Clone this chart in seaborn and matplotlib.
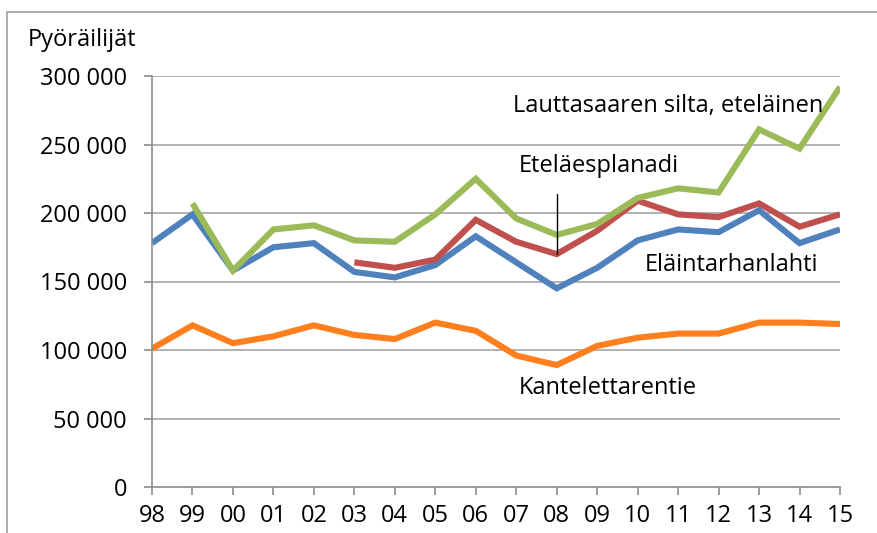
import numpy as np
import pandas as pd
import matplotlib
matplotlib.use("Agg")
import matplotlib.pyplot as plt
import seaborn as sns
from matplotlib.patches import Rectangle

years = ["98", "99", "00", "01", "02", "03", "04", "05", "06", "07", "08",
         "09", "10", "11", "12", "13", "14", "15"]
elaintarhanlahti = [178000, 199000, 158000, 175000, 178000, 157000, 153000, 162000, 183000,
                    164000, 145000, 160000, 180000, 188000, 186000, 202000, 178000, 188000]
etelaesplanadi = [np.nan, np.nan, np.nan, np.nan, np.nan, 164000, 160000, 166000, 195000,
                  179000, 170000, 187000, 209000, 199000, 197000, 207000, 190000, 199000]
lauttasaari = [np.nan, 207000, 158000, 188000, 191000, 180000, 179000, 199000, 225000,
               196000, 184000, 192000, 211000, 218000, 215000, 261000, 247000, 292000]
kantelettarentie = [101000, 118000, 105000, 110000, 118000, 111000, 108000, 120000, 114000,
                    96000, 89000, 103000, 109000, 112000, 112000, 120000, 120000, 119000]

series_names = ["Eläintarhanlahti", "Eteläesplanadi", "Lauttasaaren silta, eteläinen", "Kantelettarentie"]
series_vals = [elaintarhanlahti, etelaesplanadi, lauttasaari, kantelettarentie]
colors = ["#4F81BD", "#C0504D", "#9BBB59", "#FF7F1E"]
yticks = [0, 50000, 100000, 150000, 200000, 250000, 300000]

sns.set_theme(style="white")
plt.rcParams['font.family'] = ['Open Sans', 'DejaVu Sans']

fig = plt.figure(figsize=(8.78, 5.33), dpi=100)
ax = fig.add_axes([152/878, 46/533, 688/878, 411/533])

x = np.arange(len(years))
for name, vals, c in zip(series_names, series_vals, colors):
    df = pd.DataFrame({"x": x, "y": vals}).dropna()
    sns.lineplot(data=df, x="x", y="y", ax=ax, color=c, lw=4.4, solid_capstyle="butt",
                 solid_joinstyle="miter", legend=False)

ax.set_xlim(0, len(years) - 1)
ax.set_ylim(0, 300000)
ax.set_xticks(x)
ax.set_xticklabels(years)
ax.set_yticks(yticks)
ax.set_yticklabels([f"{v:,}".replace(",", " ") for v in yticks])
ax.set_xlabel("")
ax.set_ylabel("")
for yv in yticks[1:]:
    ax.axhline(yv, color="#A6A6A6", lw=1.2, zorder=0)
for s in ["top", "right"]:
    ax.spines[s].set_visible(False)
ax.spines["left"].set_color("#8C8C8C")
ax.spines["bottom"].set_color("#8C8C8C")
ax.spines["left"].set_linewidth(1.2)
ax.spines["bottom"].set_linewidth(1.2)
ax.tick_params(axis="both", which="major", length=6, width=1.2, color="#8C8C8C",
               labelsize=17, labelcolor="black", direction="out", bottom=True, left=True)
ax.tick_params(axis="y", pad=12)
ax.tick_params(axis="x", pad=6)

# annotations
fs = 17
fig.text(28/878, 1 - 40/533, "Pyöräilijät", fontsize=17, va="center", ha="left", color="black")
ax.annotate("Lauttasaaren silta, eteläinen", xy=(513/878, 1 - 106/533), xycoords="figure fraction",
            fontsize=fs, va="center", ha="left", color="black")
ax.annotate("Eteläesplanadi", xy=(519/878, 1 - 166/533), xycoords="figure fraction",
            fontsize=fs, va="center", ha="left", color="black")
ax.annotate("Eläintarhanlahti", xy=(645/878, 1 - 265/533), xycoords="figure fraction",
            fontsize=fs, va="center", ha="left", color="black")
ax.annotate("Kantelettarentie", xy=(519/878, 1 - 388/533), xycoords="figure fraction",
            fontsize=fs, va="center", ha="left", color="black")
ax.plot([10, 10], [etelaesplanadi[10], 214000], color="black", lw=1, zorder=5)

# chart frame
fig.patches.append(Rectangle((7/878, -0.1), 1.2, 1 - 12/533 + 0.1, transform=fig.transFigure,
                             fill=False, edgecolor="#A0A0A0", lw=1.2))

fig.savefig("out.png", dpi=100)
